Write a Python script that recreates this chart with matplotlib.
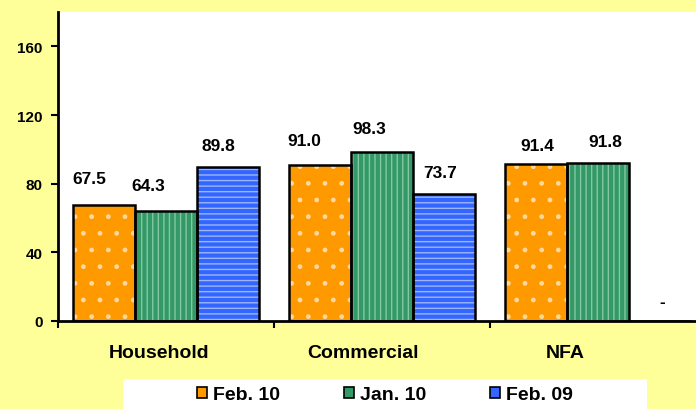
import numpy as np
import matplotlib.pyplot as plt
from matplotlib.patches import Patch, Rectangle

# -------------------------------
# Data
# -------------------------------
categories = ['Household', 'Commercial', 'NFA']
series_names = ['Feb. 10', 'Jan. 10', 'Feb. 09']
feb10 = [67.5, 91.0, 91.4]
jan10 = [64.3, 98.3, 91.8]
feb09 = [89.8, 73.7, 0.0]
feb09_labels = ['89.8', '73.7', '-']
yticks = [0, 40, 80, 120, 160]

# -------------------------------
# Style
# -------------------------------
BG = '#FFFF99'
colors = ['#FF9900', '#339966', '#3366FF']
hatches = ['.', '|||', '---']
hatch_cols = ['#FFD9A0', '#86C7A3', '#9DB5FF']
BAR_W = 0.288
FONT = 'Liberation Sans'

# label offsets in pixels (dx, dy) per series per category
label_dx = [[-14, -15, 2], [-18, -13, 7], [-10, -4, 2]]
label_dy = [[27, 24, 19], [25, 24, 22], [21, 22, 19]]

plt.rcParams['font.family'] = FONT
plt.rcParams['font.weight'] = 'bold'
plt.rcParams['hatch.linewidth'] = 1.0

fig = plt.figure(figsize=(6.96, 4.10), dpi=100, facecolor=BG)
ax = fig.add_axes([58 / 696, 88 / 410, 638 / 696, 309 / 410])
ax.set_facecolor('white')

x = np.arange(len(categories))
series = [feb10, jan10, feb09]
texts = [[f'{v:.1f}' for v in feb10], [f'{v:.1f}' for v in jan10], feb09_labels]

for k, vals in enumerate(series):
    pos = x + (k - 1) * BAR_W
    ax.bar(pos, vals, BAR_W, color=colors[k], edgecolor=hatch_cols[k],
           linewidth=0, hatch=hatches[k], zorder=2)
    ax.bar(pos, vals, BAR_W, fill=False, edgecolor='black', linewidth=1.8, zorder=3)
    for i, v in enumerate(vals):
        ax.annotate(texts[k][i], (pos[i], v), xytext=(label_dx[k][i], label_dy[k][i]),
                    textcoords='offset pixels', ha='center', va='center',
                    fontsize=12.5, fontweight='bold')

ax.set_ylim(0, 180)
ax.set_xlim(-0.5, -0.5 + 638 / 216)
ax.set_yticks(yticks)
ax.set_yticklabels([str(t) for t in yticks], fontsize=11, fontweight='bold')
ax.set_xticks([-0.5, 0.5, 1.5])
ax.set_xticklabels([])
ax.tick_params(axis='both', direction='out', length=5, width=1.5)
ax.tick_params(axis='y', pad=6)

for s in ['top', 'right']:
    ax.spines[s].set_visible(False)
for s in ['left', 'bottom']:
    ax.spines[s].set_linewidth(2)

# category labels
cat_shift = [-0.03, -0.09, -0.15]
for i, c in enumerate(categories):
    ax.text(x[i] + cat_shift[i], -18.1, c, ha='center', va='center',
            fontsize=14, fontweight='bold', clip_on=False)

# legend
fig.patches.append(Rectangle((123 / 696, 0), (647 - 123) / 696, 30 / 410,
                             transform=fig.transFigure, facecolor='white',
                             edgecolor='none', zorder=0))
handles = [Patch(facecolor=colors[k], edgecolor='black', linewidth=1.2) for k in range(3)]
leg = fig.legend(handles, series_names, loc='center', bbox_to_anchor=(385 / 696, 14 / 410),
                 ncol=3, frameon=False, fontsize=14, handlelength=0.5, handleheight=0.5,
                 handletextpad=0.3, columnspacing=3.3, borderaxespad=0)
for t in leg.get_texts():
    t.set_fontweight('bold')

plt.savefig('out.png', dpi=100, facecolor=BG)
